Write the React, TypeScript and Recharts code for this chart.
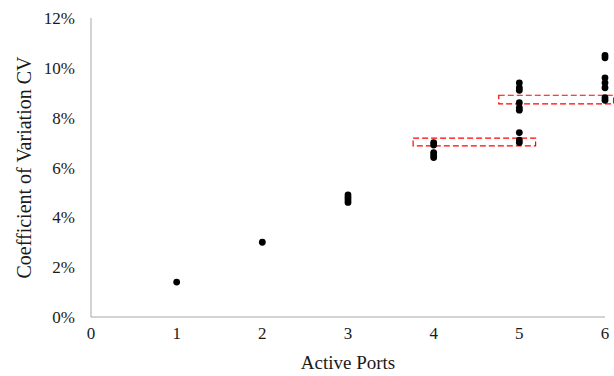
import { ScatterChart, Scatter, XAxis, YAxis, ReferenceArea } from 'recharts'

// CV values (%)
const ports = [1, 2, 3, 4, 5, 6]
const cvPort1 = [1.4]
const cvPort2 = [3.0]
const cvPort3 = [4.6, 4.7, 4.8, 4.9]
const cvPort4 = [6.4, 6.5, 6.6, 6.9, 7.0]
const cvPort5 = [7.0, 7.1, 7.4, 8.3, 8.4, 8.6, 9.1, 9.2, 9.4]
const cvPort6 = [8.7, 8.8, 9.2, 9.4, 9.6, 10.4, 10.5]
const xTicks = [0, 1, 2, 3, 4, 5, 6]
const yTicks = [0, 0.02, 0.04, 0.06, 0.08, 0.1, 0.12]

const allCv = [cvPort1, cvPort2, cvPort3, cvPort4, cvPort5, cvPort6]
const points = ports.flatMap((p, i) => allCv[i].map(v => ({ x: p, y: v / 100 })))

const font = '"Liberation Serif", "Times New Roman", serif'
const axisColor = '#a6a6a6'
const textColor = '#1a1a1a'

export default function App() {
  return (
    <div style={{ position: 'absolute', left: 0, top: 0, background: '#fff', fontFamily: font }}>
      <ScatterChart
        width={614}
        height={376}
        margin={{ top: 18, right: 9, left: 0, bottom: 0 }}
        style={{ fontFamily: font }}
      >
        <XAxis
          type="number"
          dataKey="x"
          domain={[0, 6]}
          ticks={xTicks}
          tickLine={false}
          axisLine={{ stroke: axisColor }}
          tick={{ fill: textColor, fontSize: 17, fontFamily: font }}
          tickMargin={4}
          height={59}
          label={{ value: 'Active Ports', position: 'insideBottom', offset: 7, fill: textColor, fontSize: 19, fontFamily: font }}
        />
        <YAxis
          type="number"
          dataKey="y"
          domain={[0, 0.12]}
          ticks={yTicks}
          tickLine={false}
          axisLine={{ stroke: axisColor }}
          tick={{ fill: textColor, fontSize: 17, fontFamily: font }}
          tickFormatter={(v: number) => `${Math.round(v * 100)}%`}
          tickMargin={10}
          width={91}
          label={{ value: 'Coefficient of Variation CV', angle: -90, position: 'insideLeft', offset: 24, style: { textAnchor: 'middle', fontFamily: font }, fill: textColor, fontSize: 20 }}
        />
        <ReferenceArea
          x1={3.76}
          x2={5.19}
          y1={0.0687}
          y2={0.0718}
          fill="none"
          stroke="#ff0000"
          strokeDasharray="6 3"
          strokeWidth={1.2}
          ifOverflow="visible"
        />
        <ReferenceArea
          x1={4.76}
          x2={6.1}
          y1={0.0855}
          y2={0.089}
          fill="none"
          stroke="#ff0000"
          strokeDasharray="6 3"
          strokeWidth={1.2}
          ifOverflow="visible"
        />
        <Scatter
          data={points}
          fill="#000"
          shape={(props: any) => <circle cx={props.cx} cy={props.cy} r={3.4} fill="#000" />}
          isAnimationActive={false}
        />
      </ScatterChart>
    </div>
  )
}
